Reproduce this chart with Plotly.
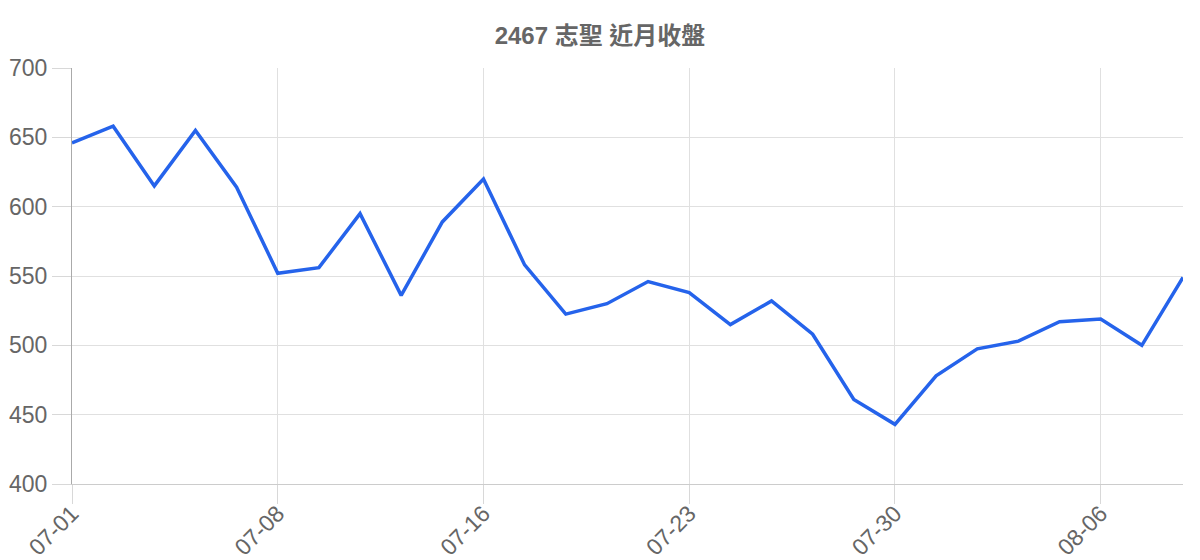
import plotly.graph_objects as go

dates = ["07-01", "07-02", "07-03", "07-04", "07-05", "07-08", "07-09", "07-10",
         "07-11", "07-12", "07-16", "07-17", "07-18", "07-19", "07-22", "07-23",
         "07-24", "07-25", "07-26", "07-29", "07-30", "07-31", "08-01", "08-02",
         "08-05", "08-06", "08-07", "08-08"]
closes = [646, 658, 615, 655, 614, 552, 556, 595,
          536, 589, 620, 558, 522.5, 530, 546, 538,
          515, 532, 508, 461, 443, 478, 497.5, 503,
          517, 519, 500, 549]
x_tick_labels = ["07-01", "07-08", "07-16", "07-23", "07-30", "08-06"]
y_ticks = [400, 450, 500, 550, 600, 650, 700]
title_text = "2467 志聖 近月收盤"

fig = go.Figure()
fig.add_trace(go.Scatter(
    x=dates, y=closes, mode="lines",
    line=dict(color="#2563eb", width=3.5),
    hoverinfo="x+y", showlegend=False,
))

tick_font = dict(family="Liberation Sans, Arial, sans-serif", size=23, color="#666666")

W, H = 1192, 552
fig.update_layout(
    width=W, height=H,
    margin=dict(l=64, r=17, t=60, b=76, autoexpand=False),
    paper_bgcolor="white", plot_bgcolor="white",
    title=dict(
        text=title_text,
        x=592 / W, xanchor="center", y=1 - 27.5 / H, yanchor="middle",
        yref="container", xref="container",
        font=dict(family="Liberation Sans, Noto Sans CJK TC, sans-serif",
                  size=24, color="#666666", weight="bold"),
    ),
    xaxis=dict(
        type="category", categoryorder="array", categoryarray=dates,
        range=[0, len(dates) - 1], automargin=False,
        tickmode="array", tickvals=x_tick_labels, ticktext=x_tick_labels,
        tickangle=-45, ticklabelstandoff=-13,
        showgrid=True, gridcolor="#e0e0e0", gridwidth=1,
        ticks="outside", ticklen=19, tickcolor="#d8d8d8", tickwidth=1,
        showline=True, linecolor="#cccccc", linewidth=1,
        tickfont=tick_font, zeroline=False,
    ),
    yaxis=dict(
        range=[400, 700], tickmode="array", tickvals=y_ticks, automargin=False,
        showgrid=True, gridcolor="#e0e0e0", gridwidth=1,
        ticks="outside", ticklen=19, tickcolor="#d8d8d8", tickwidth=1,
        showline=True, linecolor="#aaaaaa", linewidth=1,
        tickfont=tick_font, zeroline=False,
    ),
)

fig.write_html("out.html")
